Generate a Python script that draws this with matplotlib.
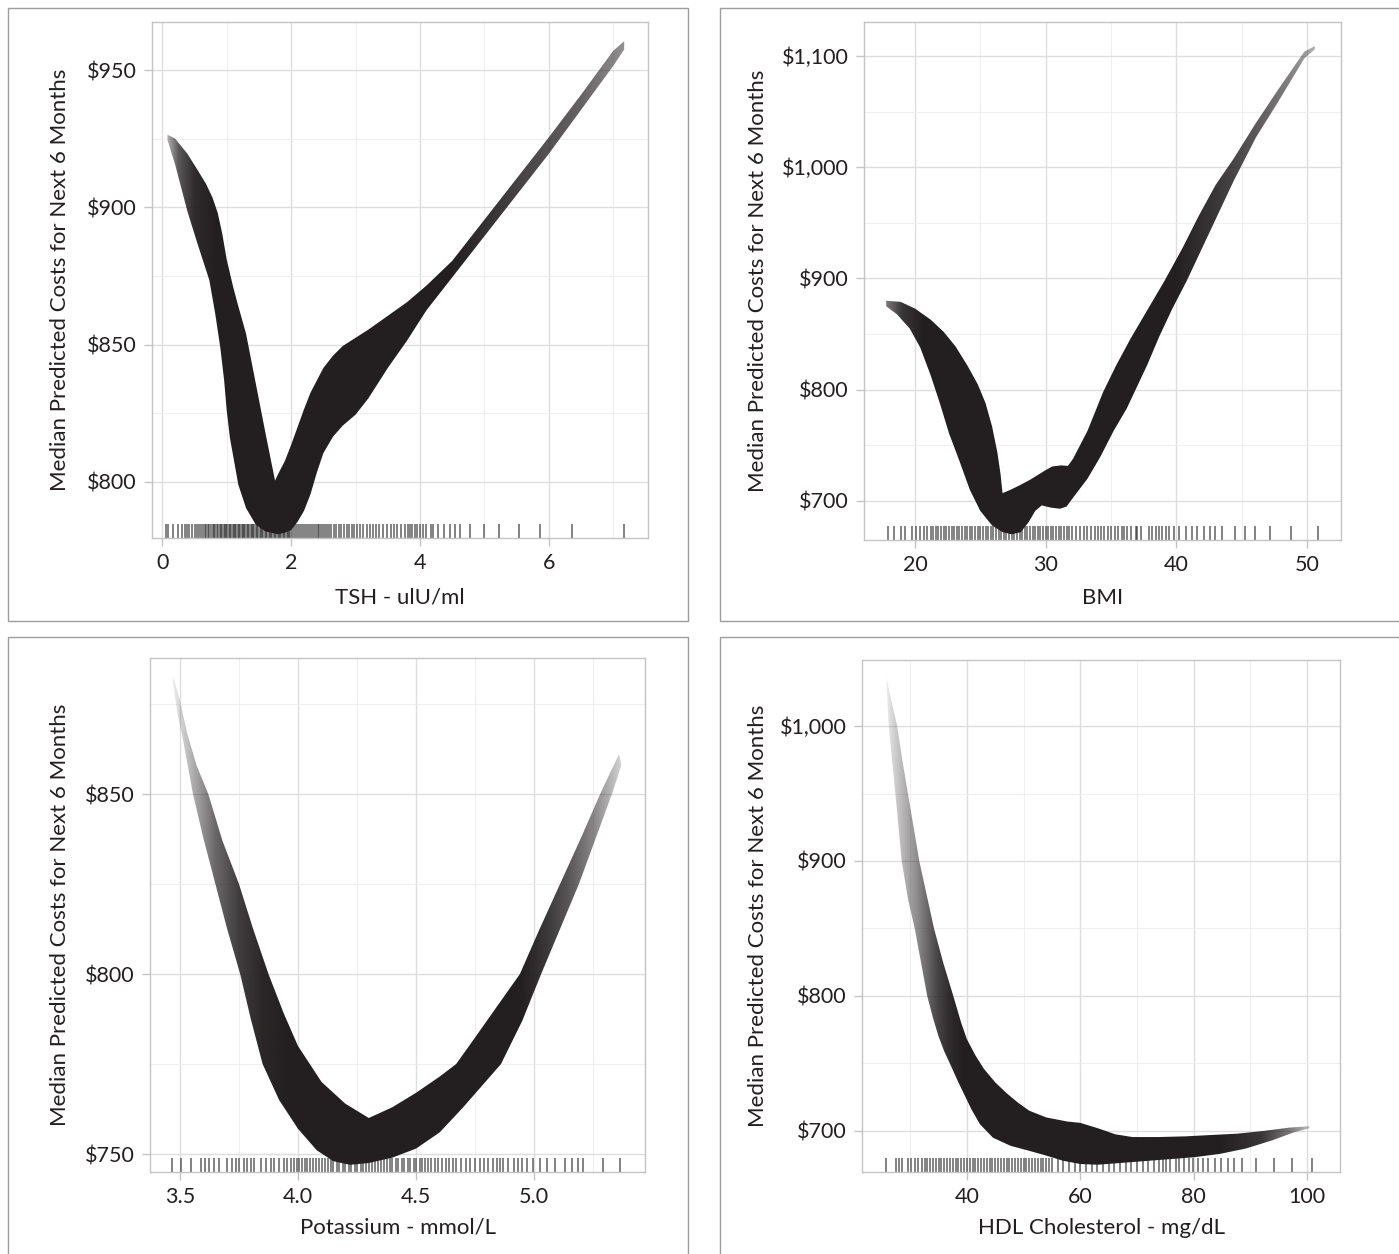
import numpy as np
import matplotlib
matplotlib.use("Agg")
import matplotlib.pyplot as plt
from matplotlib.patches import Rectangle
from matplotlib.colors import to_rgb

plt.rcParams['font.family'] = ['Lato', 'DejaVu Sans']

W, H = 1399, 1254
BAND = '#231f20'
TEXT = '#231f20'

# ---------------- TSH ----------------
tsh_up_x = [0.08, 0.2, 0.39, 0.55, 0.68, 0.78, 0.86, 0.93, 1.0, 1.1, 1.18, 1.3, 1.45, 1.6, 1.75,
            1.8, 1.9, 2.0, 2.1, 2.2, 2.3, 2.4, 2.5, 2.65, 2.8, 3.0, 3.2, 3.5, 3.8, 4.1, 4.5,
            5.0, 5.5, 6.0, 6.5, 7.0, 7.17]
tsh_up_y = [926.5, 925, 919.5, 913.5, 908.5, 903.5, 898, 890.5, 881, 871, 864, 854, 836, 818,
            800.5, 803, 807.5, 813.5, 820, 826.5, 832.5, 837, 841.5, 846, 849.5, 852.5, 855.5,
            860.5, 865.5, 871.5, 880.5, 895.5, 910.5, 925.5, 941, 957, 960.5]
tsh_lo_x = [0.08, 0.2, 0.39, 0.55, 0.73, 0.82, 0.9, 0.96, 1.0, 1.05, 1.1, 1.18, 1.3, 1.45, 1.6,
            1.75, 1.8, 1.9, 2.0, 2.1, 2.2, 2.3, 2.4, 2.5, 2.65, 2.8, 3.0, 3.2, 3.5, 3.8, 4.1,
            4.5, 5.0, 5.5, 6.0, 6.5, 7.0, 7.17]
tsh_lo_y = [924.5, 915.5, 898.5, 886.5, 873.5, 861.5, 849, 837, 826, 816, 809.5, 799, 790.5,
            784.5, 782, 781.2, 781, 781.5, 782.5, 785.5, 789.5, 795.5, 803.5, 810.5, 816.5,
            820.5, 824.5, 830.5, 841.5, 851.5, 862.5, 874.5, 889.5, 904.5, 919.5, 935.5,
            951.5, 957.5]
tsh_fade_x = [0.08, 0.25, 0.5, 0.8, 4.5, 5.5, 6.5, 7.17]
tsh_fade_a = [0.35, 0.75, 0.95, 1.0, 1.0, 0.85, 0.7, 0.5]
tsh_rug = [0.05, 0.09, 0.17, 0.25, 0.31, 0.35, 0.39, 0.42, 0.46, 0.50, 0.54, 0.57, 0.60, 0.63,
           0.66, 0.68, 0.71, 0.73, 0.76, 0.78, 0.80, 0.82, 0.85, 0.87, 0.89, 0.91, 0.93, 0.95,
           0.97, 0.99, 1.01, 1.03, 1.05, 1.07, 1.09, 1.11, 1.13, 1.15, 1.17, 1.19, 1.21, 1.23,
           1.25, 1.27, 1.29, 1.31, 1.33, 1.35, 1.37, 1.39, 1.41, 1.43, 1.45, 1.47, 1.49, 1.51,
           1.53, 1.55, 1.57, 1.59, 1.61, 1.63, 1.65, 1.67, 1.69, 1.71, 1.73, 1.75, 1.77, 1.79,
           1.81, 1.83, 1.85, 1.87, 1.89, 1.91, 1.93, 1.95, 1.97, 1.99, 2.02, 2.05, 2.08, 2.11,
           2.14, 2.17, 2.20, 2.23, 2.26, 2.29, 2.32, 2.35, 2.38, 2.41, 2.44, 2.47, 2.50, 2.53,
           2.56, 2.59, 2.62, 2.66, 2.70, 2.74, 2.78, 2.82, 2.86, 2.90, 2.94, 2.98, 3.02, 3.07,
           3.12, 3.17, 3.22, 3.27, 3.32, 3.37, 3.43, 3.49, 3.55, 3.60, 3.65, 3.70, 3.77, 3.81,
           3.84, 3.88, 3.93, 3.96, 4.00, 4.04, 4.09, 4.17, 4.21, 4.28, 4.37, 4.46, 4.54, 4.62,
           4.78, 5.00, 5.22, 5.54, 5.86, 6.36, 7.16]
tsh_xticks = [0, 2, 4, 6]
tsh_yticks = [800, 850, 900, 950]

# ---------------- BMI ----------------
bmi_up_x = [17.8, 18.9, 20.0, 21.2, 22.2, 23.1, 24.0, 24.8, 25.4, 25.9, 26.3, 26.55, 26.7, 27.3,
            28.0, 28.8, 29.9, 30.5, 31.2, 31.7, 32.1, 33.2, 34.4, 35.4, 36.5, 37.6, 39.1, 40.5,
            41.7, 43.0, 44.4, 46.1, 47.8, 49.8, 50.6]
bmi_up_y = [880, 879, 873, 863, 852, 839, 822, 805, 788, 767, 744, 724, 707, 710,
            714, 719, 727, 731, 732, 731.5, 738, 763, 798, 822, 846, 868, 898, 928,
            956, 984, 1008, 1040, 1070, 1104, 1109]
bmi_lo_x = [17.8, 18.6, 19.6, 20.4, 21.2, 21.9, 22.6, 23.4, 24.2, 25.0, 25.9, 26.7, 27.4, 28.1,
            28.7, 29.2, 29.7, 30.4, 31.1, 31.6, 32.1, 33.2, 34.2, 35.2, 36.2, 36.8, 37.8, 38.7,
            39.7, 40.8, 42.0, 43.0, 44.4, 46.1, 47.8, 49.8, 50.6]
bmi_lo_y = [875, 868, 855, 838, 813, 788, 761, 736, 710, 691, 678, 672, 670, 672,
            681, 691, 696, 694, 693, 695, 703, 720, 740, 763, 783, 798, 823, 848,
            873, 898, 928, 953, 988, 1027, 1059, 1098, 1106]
bmi_fade_x = [17.8, 19.0, 20.5, 40, 43, 46, 49, 50.6]
bmi_fade_a = [0.6, 0.9, 1.0, 1.0, 0.9, 0.75, 0.55, 0.35]
bmi_rug = [17.9, 18.4, 18.9, 19.2, 19.8, 20.05, 20.4, 20.7, 20.9, 21.2, 21.4, 21.6, 21.8, 22.0,
           22.2, 22.4, 22.6, 22.8, 23.0, 23.2, 23.4, 23.6, 23.8, 24.0, 24.2, 24.4, 24.6, 24.8,
           25.0, 25.2, 25.4, 25.6, 25.8, 26.0, 26.2, 26.4, 26.6, 26.8, 27.0, 27.2, 27.4, 27.6,
           27.8, 28.0, 28.2, 28.4, 28.6, 28.8, 29.0, 29.2, 29.4, 29.6, 29.8, 30.0, 30.2, 30.4,
           30.6, 30.8, 31.0, 31.2, 31.4, 31.6, 31.8, 32.0, 32.3, 32.6, 32.9, 33.2, 33.5, 33.8,
           34.0, 34.24, 34.49, 34.74, 35.0, 35.33, 35.5, 35.84, 36.0, 36.26, 36.52, 36.9, 37.02,
           37.28, 37.91, 38.16, 38.42, 38.67, 38.92, 39.18, 39.43, 39.81, 40.19, 40.74, 41.2,
           41.58, 42.09, 42.55, 42.98, 43.48, 44.5, 45.26, 46.02, 47.16, 48.75, 50.83]
bmi_xticks = [20, 30, 40, 50]
bmi_yticks = [700, 800, 900, 1000, 1100]

# ---------------- Potassium ----------------
k_up_x = [3.47, 3.50, 3.53, 3.57, 3.62, 3.68, 3.75, 3.81, 3.875, 3.94, 4.0, 4.1, 4.2, 4.3, 4.4,
          4.5, 4.6, 4.67, 4.73, 4.8, 4.87, 4.94, 5.02, 5.11, 5.2, 5.28, 5.33, 5.36]
k_up_y = [883, 876, 867, 858, 850, 837, 825, 812.5, 800, 789, 780, 770, 764, 760, 763,
          767, 771.5, 775, 780.5, 787, 793.5, 800, 812, 825, 838, 850, 857, 861]
k_lo_x = [3.47, 3.49, 3.51, 3.53, 3.555, 3.60, 3.65, 3.70, 3.755, 3.80, 3.85, 3.92, 4.0, 4.08,
          4.15, 4.22, 4.3, 4.4, 4.5, 4.6, 4.7, 4.78, 4.86, 4.95, 5.03, 5.11, 5.19, 5.26, 5.33,
          5.37]
k_lo_y = [881, 872, 866, 859, 850, 837.5, 825, 812.5, 800, 787.5, 775, 765, 757, 751,
          748, 747, 747.5, 749, 751.5, 756, 763, 769, 775, 787, 800, 812.5, 825, 837.5, 850,
          858]
k_fade_x = [3.47, 3.52, 3.58, 3.65, 3.75, 3.85, 3.95, 4.95, 5.05, 5.15, 5.25, 5.32, 5.37]
k_fade_a = [0.08, 0.25, 0.45, 0.68, 0.87, 0.97, 1.0, 1.0, 0.9, 0.75, 0.55, 0.35, 0.2]
k_rug = [3.465, 3.504, 3.546, 3.589, 3.606, 3.624, 3.645, 3.666, 3.70, 3.72, 3.737, 3.751,
         3.772, 3.786, 3.80, 3.814, 3.842, 3.863, 3.885, 3.899, 3.92, 3.94, 3.955, 3.97, 3.983,
         3.995, 4.005, 4.015, 4.03, 4.04, 4.05, 4.065, 4.075, 4.09, 4.10, 4.115, 4.125, 4.14,
         4.15, 4.165, 4.175, 4.19, 4.20, 4.215, 4.225, 4.24, 4.25, 4.265, 4.275, 4.29, 4.30,
         4.315, 4.325, 4.34, 4.35, 4.365, 4.375, 4.39, 4.40, 4.415, 4.425, 4.44, 4.45, 4.465,
         4.475, 4.49, 4.50, 4.515, 4.525, 4.54, 4.55, 4.565, 4.58, 4.595, 4.61, 4.625, 4.64,
         4.655, 4.67, 4.69, 4.71, 4.73, 4.75, 4.772, 4.786, 4.807, 4.828, 4.842, 4.856, 4.87,
         4.89, 4.913, 4.934, 4.948, 4.969, 4.997, 5.025, 5.054, 5.089, 5.131, 5.159, 5.187,
         5.208, 5.293, 5.363]
k_xticks = [3.5, 4.0, 4.5, 5.0]
k_yticks = [750, 800, 850]

# ---------------- HDL ----------------
hdl_up_x = [25.8, 26.6, 27.7, 28.6, 29.6, 30.6, 31.6, 32.9, 34.2, 35.8, 37.6, 39.0, 40.0, 41.5,
            43.0, 45.0, 47.0, 49.0, 51.0, 54.0, 57.7, 60.0, 63.1, 66.2, 69.2, 73.8, 78.5, 83.1,
            87.7, 92.3, 96.9, 100.4]
hdl_up_y = [1036, 1020, 1000, 975, 950, 925, 900, 875, 850, 825, 800, 780, 768, 756,
            746, 736, 728, 721, 715, 710, 707, 706, 702, 697.5, 695.5, 695.5, 696, 697,
            698, 700, 702.5, 703.5]
hdl_lo_x = [25.8, 26.2, 26.8, 27.5, 28.5, 29.6, 30.8, 31.9, 33.0, 34.0, 35.0, 36.0, 37.0, 38.5,
            40.0, 40.8, 42.3, 44.6, 47.7, 50.8, 53.8, 56.9, 60.0, 63.1, 66.2, 70.8, 75.4, 80.0,
            84.6, 89.2, 93.8, 97.7, 100.4]
hdl_lo_y = [1033, 1000, 975, 945, 900, 872, 850, 825, 800, 784, 770, 759, 750, 736,
            723, 716, 705, 695, 689, 685.5, 682, 678, 675.5, 675, 676, 677.5, 679, 680.5,
            683, 687, 693, 699, 702]
hdl_fade_x = [25.8, 27, 29, 31, 33, 35, 37, 39, 85, 92, 97, 100.4]
hdl_fade_a = [0.08, 0.2, 0.35, 0.5, 0.68, 0.85, 0.95, 1.0, 1.0, 0.9, 0.6, 0.3]
hdl_rug = [25.75, 27.5, 28.0, 28.5, 29.7, 30.1, 30.8, 31.4, 32, 32.6, 33, 33.5, 34, 34.5, 35,
           35.5, 36, 36.5, 37, 37.5, 38, 38.5, 39, 39.5, 40, 40.5, 41, 41.5, 42, 42.5, 43, 43.5,
           44, 44.5, 45, 45.5, 46, 46.5, 47, 47.5, 48, 48.5, 49, 49.5, 50, 50.5, 51, 51.5, 52,
           52.5, 53, 53.5, 54, 54.5, 55, 56, 57, 58, 59, 60, 61, 62, 63, 64, 65, 66, 67, 68, 69,
           70, 71, 72, 73, 73.9, 74.5, 75.1, 75.9, 76.8, 77.4, 78.2, 79.1, 79.9, 80.8, 81.7,
           82.5, 83.7, 84.8, 86.0, 87.1, 88.6, 90.9, 94.1, 97.4, 100.8]
hdl_xticks = [40, 60, 80, 100]
hdl_yticks = [700, 800, 900, 1000]

YLABEL = 'Median Predicted Costs for Next 6 Months'

panels = [
    dict(box=(8, 8, 688, 621), ax=(152, 22, 648, 538), xlim=(-0.16, 7.54), ylim=(779.6, 967.5),
         ux=tsh_up_x, uy=tsh_up_y, lx=tsh_lo_x, ly=tsh_lo_y, fx=tsh_fade_x, fa=tsh_fade_a,
         rug=tsh_rug, xt=tsh_xticks, yt=tsh_yticks, xminor=[1, 3, 5, 7], yminor=[825, 875, 925],
         xfmt='{:g}', xlabel='TSH - ulU/ml', ylx=60, xly=598),
    dict(box=(720, 8, 1400, 621), ax=(864, 22, 1341, 540), xlim=(16.1, 52.6), ylim=(664.9, 1130.6),
         ux=bmi_up_x, uy=bmi_up_y, lx=bmi_lo_x, ly=bmi_lo_y, fx=bmi_fade_x, fa=bmi_fade_a,
         rug=bmi_rug, xt=bmi_xticks, yt=bmi_yticks, xminor=[25, 35, 45], yminor=[750, 850, 950, 1050],
         xfmt='{:g}', xlabel='BMI', ylx=758, xly=598),
    dict(box=(8, 637, 688, 1255), ax=(150, 658, 645, 1172), xlim=(3.373, 5.47), ylim=(745.0, 887.8),
         ux=k_up_x, uy=k_up_y, lx=k_lo_x, ly=k_lo_y, fx=k_fade_x, fa=k_fade_a,
         rug=k_rug, xt=k_xticks, yt=k_yticks, xminor=[3.75, 4.25, 4.75, 5.25], yminor=[775, 825, 875],
         xfmt='{:.1f}', xlabel='Potassium - mmol/L', ylx=60, xly=1228),
    dict(box=(720, 637, 1400, 1255), ax=(862, 660, 1340, 1172), xlim=(21.5, 105.8), ylim=(669.6, 1048.9),
         ux=hdl_up_x, uy=hdl_up_y, lx=hdl_lo_x, ly=hdl_lo_y, fx=hdl_fade_x, fa=hdl_fade_a,
         rug=hdl_rug, xt=hdl_xticks, yt=hdl_yticks, xminor=[30, 50, 70, 90], yminor=[750, 850, 950],
         xfmt='{:g}', xlabel='HDL Cholesterol - mg/dL', ylx=758, xly=1228),
]

fig = plt.figure(figsize=(W / 100, H / 100), dpi=100)
fig.patch.set_facecolor('white')
rgb = to_rgb(BAND)

for p in panels:
    bx0, by0, bx1, by1 = p['box']
    fig.add_artist(Rectangle((bx0 / W, 1 - by1 / H), (bx1 - bx0) / W, (by1 - by0) / H,
                             transform=fig.transFigure, fill=False, edgecolor='#9d9d9d', lw=1.0))
    l, t, r, b = p['ax']
    ax = fig.add_axes([l / W, 1 - b / H, (r - l) / W, (b - t) / H])
    ax.set_xlim(*p['xlim'])
    ax.set_ylim(*p['ylim'])
    ax.set_autoscale_on(False)

    ax.set_xticks(p['xt'])
    ax.set_yticks(p['yt'])
    ax.set_xticks(p['xminor'], minor=True)
    ax.set_yticks(p['yminor'], minor=True)
    ax.set_xticklabels([p['xfmt'].format(v) for v in p['xt']])
    ax.set_yticklabels(['${:,.0f}'.format(v) for v in p['yt']])
    ax.grid(True, which='major', color='#dedede', lw=1.0, zorder=0)
    ax.grid(True, which='minor', color='#efefef', lw=0.8, zorder=0)
    ax.set_axisbelow(True)
    for s in ax.spines.values():
        s.set_color('#c4c4c4')
        s.set_linewidth(1.0)
    ax.tick_params(which='major', length=6, width=1.0, color='#c4c4c4', labelsize=15.5,
                   labelcolor=TEXT, pad=5)
    ax.tick_params(which='minor', length=0)

    # rug
    axh = b - t
    ax.vlines(p['rug'], 0, 14 / axh, transform=ax.get_xaxis_transform(),
              colors='#2e2e2e', alpha=0.6, lw=1.4, zorder=2)

    # band with fading alpha
    px = np.concatenate([np.asarray(p['ux'], float), np.asarray(p['lx'], float)[::-1]])
    py = np.concatenate([np.asarray(p['uy'], float), np.asarray(p['ly'], float)[::-1]])
    patch = ax.fill(px, py, facecolor='none', edgecolor='none', zorder=3)[0]
    x0, x1 = p['xlim']
    y0, y1 = p['ylim']
    n = 1200
    xs = np.linspace(x0, x1, n)
    alpha = np.interp(xs, p['fx'], p['fa'])
    img = np.zeros((2, n, 4))
    img[..., 0], img[..., 1], img[..., 2] = rgb
    img[..., 3] = alpha[None, :]
    im = ax.imshow(img, extent=(x0, x1, y0, y1), aspect='auto', origin='lower',
                   interpolation='bilinear', zorder=3)
    im.set_clip_path(patch)
    ax.set_xlim(*p['xlim'])
    ax.set_ylim(*p['ylim'])

    ax.set_xlabel(p['xlabel'], fontsize=16, color=TEXT)
    ax.set_ylabel(YLABEL, fontsize=16, color=TEXT)
    axw = r - l
    ax.xaxis.set_label_coords(0.5, (b - p['xly']) / axh)
    ax.xaxis.label.set_va('center')
    ax.yaxis.set_label_coords((p['ylx'] - l) / axw, 0.5)
    ax.yaxis.label.set_va('center')

fig.savefig('out.png', dpi=100, facecolor='white')
